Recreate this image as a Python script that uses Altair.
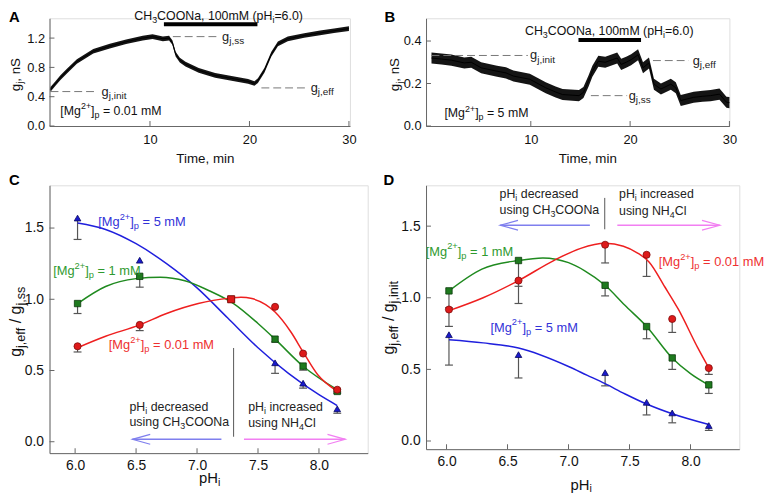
import altair as alt
import pandas as pd

FONT = "Liberation Sans"

# ---------------- data ----------------
# Panel A trace ([Mg2+]p = 0.01 mM)
tA = [0, 0.5, 1.0, 1.65, 2.65, 4.3, 5.96, 7.6, 9.27, 10.26, 11.3, 11.92, 12.25, 12.58, 13.0,
      13.57, 14.9, 16.55, 18.2, 19.86, 20.5, 20.85, 21.5, 22.2, 22.86, 23.85, 25.5, 27.1, 28.5, 30]
gA = [0.5, 0.58, 0.66, 0.75, 0.88, 1.02, 1.09, 1.15, 1.2, 1.22, 1.19, 1.2, 1.14, 0.98, 0.9,
      0.845, 0.76, 0.69, 0.65, 0.61, 0.58, 0.62, 0.76, 0.98, 1.12, 1.19, 1.235, 1.27, 1.3, 1.33]
noiseA = 0.032
# Panel B trace ([Mg2+]p = 5 mM)
tB = [0, 1, 2, 3.3, 4, 5, 6.6, 7.5, 8.25, 9.9, 11.5, 12.5, 13.2, 14.85, 15.3, 15.8, 16.2, 16.8,
      17.5, 18.2, 18.7, 19.1, 19.6, 20.1, 20.8, 21.3, 21.9, 22.4, 23.1, 24.1, 24.6, 25.1, 26.4,
      27.3, 28.1, 29, 29.7, 30]
gB = [0.32, 0.315, 0.31, 0.297, 0.3, 0.274, 0.258, 0.25, 0.235, 0.22, 0.18, 0.16, 0.148, 0.143,
      0.158, 0.21, 0.258, 0.305, 0.30, 0.312, 0.32, 0.29, 0.30, 0.312, 0.335, 0.274, 0.297, 0.197,
      0.174, 0.197, 0.18, 0.12, 0.135, 0.14, 0.143, 0.15, 0.112, 0.11]
noiseB = 0.026

# reference levels (dashed) and labels
A_ref_x1 = [0.0, 12.3, 21.2]
A_ref_x2 = [4.6, 17.05, 25.8]
A_ref_y = [0.47, 1.22, 0.52]
A_lab_x = [5.13, 17.25, 26.15]
A_lab = ["j,init", "j,ss", "j,eff"]
A_bar = [11.4, 20.8, 1.39]
B_ref_x1 = [0.0, 16.05, 22.3]
B_ref_x2 = [9.7, 19.7, 25.9]
B_ref_y = [0.332, 0.143, 0.308]
B_lab_x = [9.93, 19.86, 26.3]
B_lab = ["j,init", "j,ss", "j,eff"]
B_bar = [14.8, 21.1, 0.405]

# Panel C: g_j,eff / g_j,ss vs pHi
C_blue_x = [6.02, 6.53, 7.64, 7.87, 8.15]
C_blue_y = [1.57, 1.274, 0.554, 0.411, 0.231]
C_blue_lo = [1.42, 1.274, 0.48, 0.376, 0.20]
C_green_x = [6.02, 6.53, 7.28, 7.64, 7.87, 8.15]
C_green_y = [0.97, 1.161, 1.0, 0.72, 0.531, 0.353]
C_green_lo = [0.90, 1.085, 1.0, 0.70, 0.503, 0.34]
C_red_x = [6.02, 6.53, 7.28, 7.64, 7.87, 8.15]
C_red_y = [0.67, 0.82, 1.0, 0.947, 0.619, 0.365]
C_red_lo = [0.63, 0.78, 1.0, 0.947, 0.619, 0.35]
C_red_shape = ["circle", "circle", "square", "circle", "circle", "circle"]
C_blue_cx = [6.02, 6.25, 6.5, 6.75, 7.0, 7.25, 7.5, 7.75, 8.0, 8.15]
C_blue_cy = [1.535, 1.49, 1.39, 1.25, 1.08, 0.87, 0.66, 0.48, 0.33, 0.254]
C_green_cx = [6.02, 6.25, 6.5, 6.7, 6.9, 7.1, 7.3, 7.5, 7.64, 7.87, 8.15]
C_green_cy = [0.97, 1.09, 1.145, 1.155, 1.13, 1.06, 0.97, 0.83, 0.72, 0.53, 0.365]
C_red_cx = [6.02, 6.25, 6.53, 6.75, 7.01, 7.27, 7.36, 7.45, 7.64, 7.77, 7.87, 7.99, 8.15]
C_red_cy = [0.66, 0.74, 0.82, 0.90, 0.97, 1.008, 1.015, 1.005, 0.91, 0.77, 0.63, 0.47, 0.355]

# Panel D: g_j,eff / g_j,init vs pHi
D_x = [6.02, 6.59, 7.30, 7.64, 7.85, 8.15]
D_red_y = [0.918, 1.12, 1.37, 1.30, 0.852, 0.509]
D_red_lo = [0.80, 0.96, 1.243, 1.149, 0.758, 0.465]
D_green_y = [1.048, 1.26, 1.087, 0.799, 0.58, 0.392]
D_green_lo = [0.93, 1.08, 1.013, 0.714, 0.50, 0.332]
D_blue_y = [0.742, 0.603, 0.477, 0.27, 0.196, 0.108]
D_blue_lo = [0.53, 0.44, 0.385, 0.182, 0.127, 0.074]
D_red_cx = [6.02, 6.3, 6.59, 6.89, 7.1, 7.3, 7.45, 7.57, 7.66, 7.79, 7.9, 8.06, 8.15]
D_red_cy = [0.91, 1.0, 1.12, 1.265, 1.345, 1.38, 1.36, 1.31, 1.25, 1.075, 0.92, 0.65, 0.51]
D_green_cx = [6.02, 6.29, 6.59, 6.79, 7.0, 7.13, 7.3, 7.46, 7.64, 7.85, 8.0, 8.15]
D_green_cy = [1.048, 1.2, 1.26, 1.278, 1.245, 1.19, 1.087, 0.949, 0.80, 0.58, 0.47, 0.39]
D_blue_cx = [6.02, 6.3, 6.59, 7.0, 7.15, 7.3, 7.46, 7.64, 7.85, 8.15]
D_blue_cy = [0.707, 0.685, 0.649, 0.52, 0.46, 0.40, 0.33, 0.258, 0.19, 0.115]

LINE = {"red": "#ee1f1f", "green": "#1f8a1f", "blue": "#1f1fdd"}
FILL = {"red": "#dd1a1a", "green": "#1e7a1e", "blue": "#1a1acc"}
EDGE = {"red": "#800a0a", "green": "#0c3a0c", "blue": "#08085e"}
LABC = {"red": "#ee3030", "green": "#2f9a2f", "blue": "#3232d8"}

# ---------------- helpers ----------------
CW = {' ': 278, '(': 333, ')': 333, '+': 584, ',': 278, '-': 333, '.': 278, '/': 278, '=': 584,
      '[': 278, ']': 278, 'A': 667, 'B': 667, 'C': 722, 'D': 722, 'H': 722, 'M': 833, 'N': 722,
      'O': 778, 'S': 667, 'T': 611, 'a': 556, 'c': 500, 'd': 556, 'e': 556, 'f': 278, 'g': 556,
      'i': 222, 'j': 222, 'l': 222, 'm': 833, 'n': 556, 'o': 556, 'p': 556, 'r': 333, 's': 500,
      't': 278, 'u': 556}


def tw(s, size):
    return sum(CW.get(c, 556) for c in s) * size / 1000.0


class Panel:
    def __init__(self, xdom, ydom, w, h, xticks, yticks, xfmt, yfmt, lsize, xpad, ypad):
        self.xdom, self.ydom, self.w, self.h = xdom, ydom, w, h
        self.xticks, self.yticks = xticks, yticks
        common = dict(title=None, grid=False, ticks=False, tickSize=0, domainColor="#666",
                      domainWidth=1, labelFont=FONT, labelFontSize=lsize, labelColor="#111",
                      labelFlush=False, labelOverlap=False)
        self.xaxis = alt.Axis(values=xticks, format=xfmt, labelPadding=xpad, **common)
        self.yaxis = alt.Axis(values=yticks, format=yfmt, labelPadding=ypad, **common)
        self.layers = []

    def X(self, f):
        return alt.X(f, type="quantitative", axis=self.xaxis,
                     scale=alt.Scale(domain=self.xdom, nice=False, zero=False))

    def Y(self, f):
        return alt.Y(f, type="quantitative", axis=self.yaxis,
                     scale=alt.Scale(domain=self.ydom, nice=False, zero=False))

    def add(self, c):
        self.layers.append(c)

    def inner_ticks(self):
        self.add(alt.Chart(pd.DataFrame({"v": self.yticks})).mark_tick(
            orient="horizontal", size=5, thickness=1, color="#666", opacity=1).encode(
            y=self.Y("v"), x=alt.value(2.5)))
        self.add(alt.Chart(pd.DataFrame({"v": self.xticks})).mark_tick(
            orient="vertical", size=5, thickness=1, color="#666", opacity=1).encode(
            x=self.X("v"), y=alt.value(self.h - 2.5)))

    def text(self, segs, size, color, x=None, y=None, px=None, py=None, angle=0,
             anchor="left", weight="normal", ratio=0.72):
        sizes = [size if k == "n" else round(size * ratio, 1) for _, k in segs]
        total = sum(tw(s, fs) for (s, _), fs in zip(segs, sizes))
        off = -total / 2.0 if anchor == "center" else 0.0
        for (s, k), fs in zip(segs, sizes):
            st = s.lstrip(" ")
            lead = tw(s[:len(s) - len(st)], fs)
            txt = st.rstrip(" ")
            dy = 0.0 if k == "n" else (0.32 * size if k == "sub" else -0.40 * size)
            if txt:
                df = pd.DataFrame({"x": [x if x is not None else 0.0],
                                   "y": [y if y is not None else 0.0], "t": [txt]})
                enc = {"text": alt.Text("t:N")}
                enc["x"] = self.X("x") if px is None else alt.value(px)
                enc["y"] = self.Y("y") if py is None else alt.value(py)
                self.add(alt.Chart(df).mark_text(
                    align="left", baseline="middle", dx=round(off + lead, 2), dy=round(dy, 2),
                    angle=angle, fontSize=fs, font=FONT, color=color,
                    fontWeight=weight).encode(**enc))
            off += tw(s, fs)

    def chart(self):
        return alt.layer(*self.layers).properties(width=self.w, height=self.h)


def trace_panel(P, t, g, noise, refx1, refx2, refy, labx, labs, bar):
    df = pd.DataFrame({"t": t, "g": g})
    df["lo"] = df["g"] - noise
    df["hi"] = df["g"] + noise
    P.add(alt.Chart(df).mark_area(color="black", opacity=0.92).encode(
        x=P.X("t"), y=P.Y("lo"), y2=alt.Y2("hi")))
    P.add(alt.Chart(df).mark_line(color="black", strokeWidth=1).encode(x=P.X("t"), y=P.Y("g")))
    ref = pd.DataFrame({"x1": refx1, "x2": refx2, "y": refy})
    P.add(alt.Chart(ref).mark_rule(color="#777", strokeWidth=1, strokeDash=[8, 4]).encode(
        x=P.X("x1"), x2=alt.X2("x2"), y=P.Y("y")))
    bdf = pd.DataFrame({"x1": [bar[0]], "x2": [bar[1]], "y": [bar[2]]})
    P.add(alt.Chart(bdf).mark_rule(color="black", strokeWidth=4).encode(
        x=P.X("x1"), x2=alt.X2("x2"), y=P.Y("y")))
    for lx, ly, lab in zip(labx, refy, labs):
        P.text([("g", "n"), (lab, "sub")], 13, "#222", x=lx, y=ly, ratio=0.78)
    P.inner_ticks()


def curve(P, xs, ys, col):
    P.add(alt.Chart(pd.DataFrame({"x": xs, "y": ys})).mark_line(
        color=LINE[col], strokeWidth=1.5, interpolate="monotone").encode(x=P.X("x"), y=P.Y("y")))


def errbars(P, xs, ys, los):
    df = pd.DataFrame({"x": xs, "y": ys, "lo": los})
    df = df[df["lo"] < df["y"] - 1e-9]
    P.add(alt.Chart(df).mark_rule(color="#555", strokeWidth=1.2).encode(
        x=P.X("x"), y=P.Y("y"), y2=alt.Y2("lo")))
    P.add(alt.Chart(df).mark_tick(orient="horizontal", size=8, thickness=1.2, color="#555",
                                  opacity=1).encode(x=P.X("x"), y=P.Y("lo")))


def markers(P, xs, ys, col, shapes, size):
    df = pd.DataFrame({"x": xs, "y": ys, "s": shapes})
    P.add(alt.Chart(df).mark_point(filled=True, fill=FILL[col], stroke=EDGE[col], strokeWidth=0.8,
                                   size=size, opacity=1).encode(
        x=P.X("x"), y=P.Y("y"), shape=alt.Shape("s:N", scale=None, legend=None)))


def arrow(P, x1, x2, y, color):
    P.add(alt.Chart(pd.DataFrame({"x1": [x1], "x2": [x2], "y": [y]})).mark_rule(
        color=color, strokeWidth=1.5).encode(x=P.X("x1"), x2=alt.X2("x2"), y=P.Y("y")))
    path = "M2,-0.55L0,0L2,0.55" if x2 < x1 else "M-2,-0.55L0,0L-2,0.55"
    P.add(alt.Chart(pd.DataFrame({"x": [x2], "y": [y]})).mark_point(
        shape=path, filled=False, color=color, size=324, strokeWidth=1.2, opacity=1).encode(
        x=P.X("x"), y=P.Y("y")))


def divider(P, x, y1, y2):
    P.add(alt.Chart(pd.DataFrame({"x": [x], "y1": [y1], "y2": [y2]})).mark_rule(
        color="#555", strokeWidth=1).encode(x=P.X("x"), y=P.Y("y1"), y2=alt.Y2("y2")))


MG = lambda v: [("[Mg", "n"), ("2+", "sup"), ("]", "n"), ("p", "sub"), (" = " + v + " mM", "n")]
ACET = [("CH", "n"), ("3", "sub"), ("COONa, 100mM (pH", "n"), ("i", "sub"), ("=6.0)", "n")]

# ---------------- Panel A ----------------
A = Panel([-0.1, 30.1], [0, 1.47], 304, 109, [10, 20, 30], [0.0, 0.4, 0.8, 1.2], "d", ".1f", 13, 8, 5)
trace_panel(A, tA, gA, noiseA, A_ref_x1, A_ref_x2, A_ref_y, A_lab_x, A_lab, A_bar)
A.text(ACET, 12.5, "#111", x=16.9, y=1.497, anchor="center")
A.text(MG("0.01"), 12.5, "#111", x=0.99, y=0.21)
A.text([("g", "n"), ("j", "sub"), (", nS", "n")], 13.5, "#111", px=-34, py=57, angle=270, anchor="center")
A.text([("Time, min", "n")], 13.5, "#111", px=158, py=142, anchor="center")
A.text([("A", "n")], 15, "black", px=-41, py=-1, weight="bold")

# ---------------- Panel B ----------------
# column 2 starts 4 px left of B's own axis; domain start widened to keep data positions
B = Panel([-0.55, 30.0], [0, 0.507], 307, 109, [10, 20, 30], [0.0, 0.2, 0.4], "d", ".1f", 13, 8, 5)
trace_panel(B, tB, gB, noiseB, B_ref_x1, B_ref_x2, B_ref_y, B_lab_x, B_lab, B_bar)
B.text(ACET, 12.5, "#111", x=17.9, y=0.446, anchor="center")
B.text(MG("5"), 12.5, "#111", x=1.3, y=0.059)
B.text([("g", "n"), ("j", "sub"), (", nS", "n")], 13.5, "#111", px=-31, py=57, angle=270, anchor="center")
B.text([("Time, min", "n")], 13.5, "#111", px=164, py=142, anchor="center")
B.text([("B", "n")], 15, "black", px=-42, py=-1, weight="bold")

# ---------------- Panel C ----------------
C = Panel([5.79, 8.40], [-0.08, 1.80], 322, 271, [6.0, 6.5, 7.0, 7.5, 8.0], [0.0, 0.5, 1.0, 1.5],
          ".1f", ".1f", 14, 6, 6)
errbars(C, C_blue_x, C_blue_y, C_blue_lo)
errbars(C, C_green_x, C_green_y, C_green_lo)
errbars(C, C_red_x, C_red_y, C_red_lo)
curve(C, C_blue_cx, C_blue_cy, "blue")
curve(C, C_green_cx, C_green_cy, "green")
curve(C, C_red_cx, C_red_cy, "red")
markers(C, C_blue_x, C_blue_y, "blue", ["triangle-up"] * len(C_blue_x), 45)
markers(C, C_green_x, C_green_y, "green", ["square"] * len(C_green_x), 42)
markers(C, C_red_x, C_red_y, "red", C_red_shape, 52)
C.inner_ticks()
divider(C, 7.30, 0.658, 0.035)
arrow(C, 7.20, 6.47, 0.017, "#7f7fee")
arrow(C, 7.385, 8.216, 0.017, "#f27ff2")
C.text([("pH", "n"), ("i", "sub"), (" decreased", "n")], 12.5, "#222", x=6.446, y=0.242)
C.text([("using CH", "n"), ("3", "sub"), ("COONa", "n")], 12.5, "#222", x=6.446, y=0.139)
C.text([("pH", "n"), ("i", "sub"), (" increased", "n")], 12.5, "#222", x=7.42, y=0.242)
C.text([("using NH", "n"), ("4", "sub"), ("Cl", "n")], 12.5, "#222", x=7.42, y=0.132)
C.text(MG("5"), 13, LABC["blue"], x=6.19, y=1.54)
C.text(MG("1"), 13, LABC["green"], x=5.82, y=1.20)
C.text(MG("0.01"), 13, LABC["red"], x=6.276, y=0.68)
C.text([("g", "n"), ("j,eff", "sub"), (" / g", "n"), ("j,ss", "sub")], 16, "#111",
       px=-34, py=138, angle=270, anchor="center", ratio=0.8)
C.text([("pH", "n"), ("i", "sub")], 15, "#111", px=162, py=296, anchor="center")
C.text([("C", "n")], 15, "black", px=-41, py=-5, weight="bold")

# ---------------- Panel D ----------------
D = Panel([5.832, 8.40], [-0.057, 1.785], 317, 267, [6.0, 6.5, 7.0, 7.5, 8.0], [0.0, 0.5, 1.0, 1.5],
          ".1f", ".1f", 14, 6, 6)
errbars(D, D_x, D_blue_y, D_blue_lo)
errbars(D, D_x, D_green_y, D_green_lo)
errbars(D, D_x, D_red_y, D_red_lo)
curve(D, D_blue_cx, D_blue_cy, "blue")
curve(D, D_green_cx, D_green_cy, "green")
curve(D, D_red_cx, D_red_cy, "red")
markers(D, D_x, D_blue_y, "blue", ["triangle-up"] * len(D_x), 45)
markers(D, D_x, D_green_y, "green", ["square"] * len(D_x), 42)
markers(D, D_x, D_red_y, "red", ["circle"] * len(D_x), 52)
D.inner_ticks()
divider(D, 7.297, 1.697, 1.478)
arrow(D, 7.175, 6.44, 1.506, "#7f7fee")
arrow(D, 7.40, 8.24, 1.506, "#f27ff2")
D.text([("pH", "n"), ("i", "sub"), (" decreased", "n")], 12.5, "#222", x=6.435, y=1.725)
D.text([("using CH", "n"), ("3", "sub"), ("COONa", "n")], 12.5, "#222", x=6.435, y=1.612)
D.text([("pH", "n"), ("i", "sub"), (" increased", "n")], 12.5, "#222", x=7.414, y=1.725)
D.text([("using NH", "n"), ("4", "sub"), ("Cl", "n")], 12.5, "#222", x=7.414, y=1.606)
D.text(MG("1"), 13, LABC["green"], x=5.83, y=1.322)
D.text(MG("0.01"), 13, LABC["red"], x=7.74, y=1.248)
D.text(MG("5"), 13, LABC["blue"], x=6.36, y=0.792)
D.text([("g", "n"), ("j,eff", "sub"), (" / g", "n"), ("j,init", "sub")], 16, "#111",
       px=-37, py=134, angle=270, anchor="center", ratio=0.8)
D.text([("pH", "n"), ("i", "sub")], 15, "#111", px=157, py=303, anchor="center")
D.text([("D", "n")], 15, "black", px=-43, py=-5, weight="bold")

chart = alt.concat(A.chart(), B.chart(), C.chart(), D.chart(), columns=2, bounds="flush",
                   spacing={"row": 60, "column": 59}).properties(
    padding={"left": -1, "top": -1.5, "right": 0, "bottom": 0}, background="white"
).configure_view(stroke=None).configure(font=FONT)

chart.save("out.html", embed_options={"renderer": "svg", "actions": False})
